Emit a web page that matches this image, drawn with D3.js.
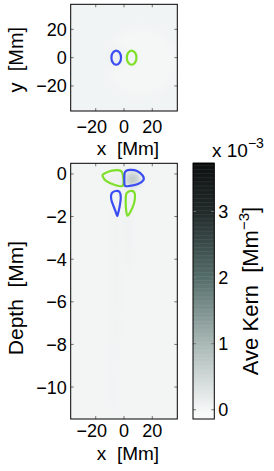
<!DOCTYPE html>
<html>
<head>
<meta charset="utf-8">
<script src="https://cdn.jsdelivr.net/npm/d3@7"></script>
<style>
  body { margin: 0; background: #fff; }
  text { font-family: "Liberation Sans", Arial, sans-serif; fill: #000; }
</style>
</head>
<body>
<div id="chart"></div>
<script>
// ---- data ----
// x / y ticks (Mm)
const xTicks = [-20, 0, 20];
const yTicks = [-20, 0, 20];
const depthTicks = [-10, -8, -6, -4, -2, 0];
const cbTicks = [0, 1, 2, 3];

// colour map stops (value in 1e-3 Mm^-3)
const cmapVals = [-0.14, 0, 1, 2, 3, 3.73];
const cmapCols = ["#fafafa", "#f5f7f7", "#a9b8b5", "#566e6b", "#222b2a", "#0f1111"];

// top view: faint shading blobs  [x, y, rx, ry, value]
const topBg = 0.05;
const topBlobs = [
  [12, -3, 24, 24, 0.0],
  [-6, 0, 5, 7, 0.12],
  [5, 0, 4, 6, 0.06]
];
// top view contours: ellipses [cx, cy, rx, ry]
const topBlue = [-5.5, 0, 3.4, 5.0];
const topGreen = [5.4, 0, 3.4, 5.0];

// depth slice: shading blobs [x, depth, rx, rz, value]
const sideBg = 0.03;
const sideBlobs = [
  [6, -0.25, 5.5, 0.35, 0.7],
  [-6, -0.3, 6, 0.3, 0.12],
  [-6, -5, 3, 5.5, 0.07],
  [3, -2.5, 2.2, 2, 0.09],
  [-8, -9.5, 3, 2, 0.05]
];
// depth slice contours: [x, depth] points
const greenUL = [[-14.5, 0.0], [-8.5, 0.16], [-2.1, 0.14], [-0.5, -0.19], [-1.0, -0.56], [-6.4, -0.52], [-12.7, -0.33], [-15.2, -0.09]];
const blueUR = [[0.7, 0.09], [4.2, 0.19], [9.2, 0.14], [13.1, -0.07], [13.8, -0.28], [9.9, -0.47], [4.2, -0.56], [0.8, -0.56], [0.2, -0.28]];
const blueLL = [[-8.4, -0.88], [-6, -0.8], [-3.2, -0.84], [-2.3, -1.1], [-3, -1.5], [-4.3, -1.88], [-4.9, -1.96], [-6.3, -1.7], [-8.6, -1.3], [-9.2, -1.05]];
const greenLR = [[2.1, -0.88], [4.6, -0.8], [7.1, -0.85], [7.8, -1.05], [7.0, -1.4], [4.4, -1.8], [2.4, -1.96], [1.5, -1.7], [1.2, -1.3], [1.4, -1.0]];

const BLUE = "#3b4cf2", GREEN = "#7fe02a";
const TICK_FS = 18, LABEL_FS = 19;

// ---- layout ----
const W = 274, H = 471;
const svg = d3.select("#chart").append("svg").attr("width", W).attr("height", H);
const defs = svg.append("defs");

const color = d3.scaleLinear().domain(cmapVals).range(cmapCols).clamp(true);

const xTop = d3.scaleLinear().domain([-37.7, 37.7]).range([70.7, 177.3]);
const yTop = d3.scaleLinear().domain([-37.7, 37.7]).range([111, 4.3]);
const xSide = d3.scaleLinear().domain([-37.7, 37.7]).range([70.7, 177.3]);
const ySide = d3.scaleLinear().domain([-11.5, 0.5]).range([419, 163.3]);
const cbScale = d3.scaleLinear().domain([-0.14, 3.73]).range([419, 163.3]);

function blurFilter(id, sd) {
  defs.append("filter").attr("id", id).attr("x", "-50%").attr("y", "-50%")
    .attr("width", "200%").attr("height", "200%")
    .append("feGaussianBlur").attr("stdDeviation", sd);
}
blurFilter("blurTop", 5);
blurFilter("blurSide", 3);

function clipRect(id, xs, ys) {
  defs.append("clipPath").attr("id", id).append("rect")
    .attr("x", xs.range()[0]).attr("y", ys.range()[1])
    .attr("width", xs.range()[1] - xs.range()[0])
    .attr("height", ys.range()[0] - ys.range()[1]);
}
clipRect("clipTop", xTop, yTop);
clipRect("clipSide", xSide, ySide);

function drawPanel(xs, ys, bg, blobs, clipId, blurId) {
  const g = svg.append("g").attr("clip-path", "url(#" + clipId + ")");
  g.append("rect")
    .attr("x", xs.range()[0]).attr("y", ys.range()[1])
    .attr("width", xs.range()[1] - xs.range()[0])
    .attr("height", ys.range()[0] - ys.range()[1])
    .attr("fill", color(bg));
  g.append("g").attr("filter", "url(#" + blurId + ")")
    .selectAll("ellipse").data(blobs).join("ellipse")
    .attr("cx", d => xs(d[0])).attr("cy", d => ys(d[1]))
    .attr("rx", d => Math.abs(xs(d[2]) - xs(0)))
    .attr("ry", d => Math.abs(ys(d[3]) - ys(0)))
    .attr("fill", d => color(d[4]));
  return g;
}

// MATLAB-ish box: inside ticks on all four sides
function frame(xs, ys, xt, yt, tickBase, labelBase) {
  const x0 = xs.range()[0], x1 = xs.range()[1], y0 = ys.range()[1], y1 = ys.range()[0];
  const g = svg.append("g");
  const tl = 3;
  xt.forEach(v => {
    g.append("line").attr("x1", xs(v)).attr("x2", xs(v)).attr("y1", y1).attr("y2", y1 - tl).attr("stroke", "#777");
    g.append("line").attr("x1", xs(v)).attr("x2", xs(v)).attr("y1", y0).attr("y2", y0 + tl).attr("stroke", "#777");
  });
  yt.forEach(v => {
    g.append("line").attr("x1", x0).attr("x2", x0 + tl).attr("y1", ys(v)).attr("y2", ys(v)).attr("stroke", "#777");
    g.append("line").attr("x1", x1).attr("x2", x1 - tl).attr("y1", ys(v)).attr("y2", ys(v)).attr("stroke", "#777");
  });
  g.append("rect").attr("x", x0).attr("y", y0).attr("width", x1 - x0).attr("height", y1 - y0)
    .attr("fill", "none").attr("stroke", "#000");

  const fmt = d3.format("d");
  g.selectAll("text.xt").data(xt).join("text")
    .attr("x", d => xs(d)).attr("dx", d => d < 0 ? -4 : 0).attr("y", tickBase)
    .attr("text-anchor", "middle").attr("font-size", TICK_FS).text(fmt);
  g.selectAll("text.yt").data(yt).join("text")
    .attr("x", x0 - 4).attr("y", d => ys(d) + 6.5)
    .attr("text-anchor", "end").attr("font-size", TICK_FS).text(fmt);
  g.append("text").attr("x", (x0 + x1) / 2 + 4).attr("y", labelBase)
    .attr("text-anchor", "middle").attr("font-size", LABEL_FS).attr("xml:space", "preserve").text("x  [Mm]");
}

// ---- top panel ----
drawPanel(xTop, yTop, topBg, topBlobs, "clipTop", "blurTop");
[[topBlue, BLUE], [topGreen, GREEN]].forEach(([e, c]) => {
  svg.append("ellipse")
    .attr("cx", xTop(e[0])).attr("cy", yTop(e[1]))
    .attr("rx", xTop(e[2]) - xTop(0)).attr("ry", yTop(0) - yTop(e[3]))
    .attr("fill", "none").attr("stroke", c).attr("stroke-width", 2.2);
});
frame(xTop, yTop, xTicks, yTicks, 133, 155);
svg.append("text").attr("transform", "translate(23," + (yTop(0) + 2) + ") rotate(-90)")
  .attr("text-anchor", "middle").attr("font-size", 20).attr("xml:space", "preserve").text("y  [Mm]");

// ---- depth panel ----
drawPanel(xSide, ySide, sideBg, sideBlobs, "clipSide", "blurSide");
const line = d3.line().x(d => xSide(d[0])).y(d => ySide(d[1])).curve(d3.curveCardinalClosed.tension(0.2));
[[greenUL, GREEN], [blueUR, BLUE], [blueLL, BLUE], [greenLR, GREEN]].forEach(([pts, c]) => {
  svg.append("path").attr("d", line(pts)).attr("fill", "none")
    .attr("stroke", c).attr("stroke-width", 2.2).attr("clip-path", "url(#clipSide)");
});
frame(xSide, ySide, xTicks, depthTicks, 437, 460);
svg.append("text").attr("transform", "translate(23,298) rotate(-90)")
  .attr("text-anchor", "middle").attr("font-size", 21).attr("xml:space", "preserve").text("Depth  [Mm]");

// ---- colour bar ----
const cbX0 = 193, cbX1 = 214.3;
const steps = d3.range(-0.14, 3.73, 0.02);
svg.append("g").selectAll("rect").data(steps).join("rect")
  .attr("x", cbX0).attr("width", cbX1 - cbX0)
  .attr("y", d => cbScale(d + 0.02)).attr("height", d => cbScale(d) - cbScale(d + 0.02) + 0.5)
  .attr("fill", d => color(d + 0.01));
const cb = svg.append("g");
cbTicks.forEach(v => {
  cb.append("line").attr("x1", cbX0).attr("x2", cbX0 + 3).attr("y1", cbScale(v)).attr("y2", cbScale(v)).attr("stroke", "#777");
  cb.append("line").attr("x1", cbX1).attr("x2", cbX1 - 3).attr("y1", cbScale(v)).attr("y2", cbScale(v)).attr("stroke", "#777");
});
cb.append("rect").attr("x", cbX0).attr("y", 163.3).attr("width", cbX1 - cbX0).attr("height", 419 - 163.3)
  .attr("fill", "none").attr("stroke", "#000");
cb.selectAll("text.cbt").data(cbTicks).join("text")
  .attr("x", cbX1 + 4).attr("y", d => cbScale(d) + 6.5)
  .attr("font-size", TICK_FS).text(d => d);

const ex = svg.append("text").attr("x", 212).attr("y", 157).attr("font-size", 19);
ex.append("tspan").attr("xml:space", "preserve").text("x 10");
ex.append("tspan").attr("dy", -9).attr("font-size", 14).text("\u22123");

const cl = svg.append("text").attr("transform", "translate(258,291) rotate(-90)")
  .attr("text-anchor", "middle").attr("font-size", 22);
cl.append("tspan").attr("xml:space", "preserve").text("Ave Kern  [Mm");
cl.append("tspan").attr("dy", -9).attr("font-size", 15).text("\u22123");
cl.append("tspan").attr("dy", 9).text("]");
</script>
</body>
</html>
